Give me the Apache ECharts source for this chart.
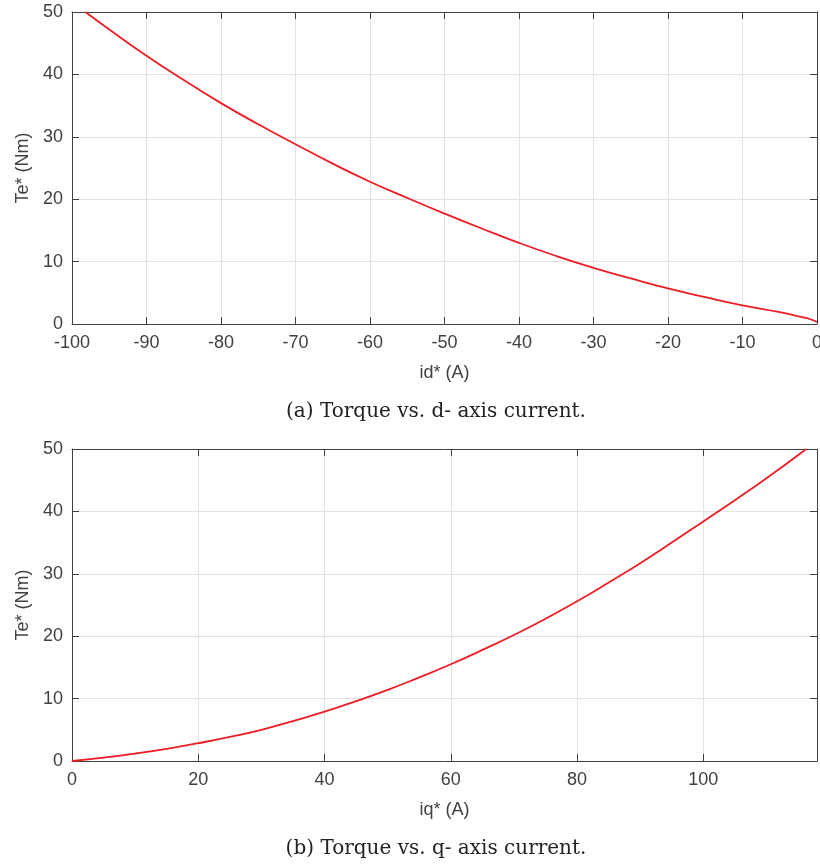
<!DOCTYPE html>
<html>
<head>
<meta charset="utf-8">
<script src="https://cdn.jsdelivr.net/npm/echarts@6/dist/echarts.min.js"></script>
<style>
html,body{margin:0;padding:0;background:#fff;}
#chart{width:820px;height:865px;}
</style>
</head>
<body>
<div id="chart"></div>
<script>
// Top panel: torque vs d-axis current
const idCurrent = [-98.2, -95, -90, -85, -80, -75, -70, -65, -60, -55, -50, -45, -40, -35, -30, -25, -20, -15, -10, -5, -2, -1, 0];
const teFromId  = [50, 47.2, 43.0, 39.1, 35.4, 32.0, 28.8, 25.7, 22.8, 20.2, 17.7, 15.3, 13.0, 10.9, 9.0, 7.3, 5.7, 4.3, 3.0, 1.9, 1.1, 0.8, 0.35];
// Bottom panel: torque vs q-axis current
const iqCurrent = [0, 5, 10, 15, 20, 25, 30, 35, 40, 45, 50, 55, 60, 65, 70, 75, 80, 85, 90, 95, 100, 105, 110, 116.3];
const teFromIq  = [0, 0.55, 1.2, 1.95, 2.85, 3.85, 5.0, 6.4, 7.9, 9.6, 11.4, 13.4, 15.5, 17.8, 20.2, 22.8, 25.6, 28.6, 31.7, 35.0, 38.4, 41.8, 45.3, 50];

const xLabelA = 'id* (A)';
const xLabelB = 'iq* (A)';
const yLabel = 'Te* (Nm)';
const captionA = '(a) Torque vs. d- axis current.';
const captionB = '(b) Torque vs. q- axis current.';

const AX = '#404040';
const GRIDC = '#e2e2e2';
const FONT = '"Liberation Sans", Arial, Helvetica, sans-serif';

function mainX(gi, min, max, interval, name, fmt) {
  return {
    type: 'value', gridIndex: gi, position: 'bottom', min, max, interval,
    name, nameLocation: 'middle', nameGap: 40,
    nameTextStyle: {color: AX, fontSize: 18, fontFamily: FONT},
    axisLine: {show: true, onZero: false, lineStyle: {color: AX, width: 1}},
    axisTick: {show: true, inside: true, length: 7, lineStyle: {color: AX}},
    axisLabel: {color: AX, fontSize: 18, fontFamily: FONT, margin: 10, formatter: fmt},
    splitLine: {show: true, lineStyle: {color: GRIDC, width: 1}}
  };
}
function frameX(gi, min, max, interval) {
  return {
    type: 'value', gridIndex: gi, position: 'top', min, max, interval,
    axisLine: {show: true, onZero: false, lineStyle: {color: AX, width: 1}},
    axisTick: {show: true, inside: true, length: 7, lineStyle: {color: AX}},
    axisLabel: {show: false}, splitLine: {show: false}
  };
}
function mainY(gi) {
  return {
    type: 'value', gridIndex: gi, position: 'left', min: 0, max: 50, interval: 10,
    name: yLabel, nameLocation: 'middle', nameGap: 34, nameRotate: 90,
    nameTextStyle: {color: AX, fontSize: 18, fontFamily: FONT},
    axisLine: {show: true, onZero: false, lineStyle: {color: AX, width: 1}},
    axisTick: {show: true, inside: true, length: 7, lineStyle: {color: AX}},
    axisLabel: {color: AX, fontSize: 18, fontFamily: FONT, margin: 9},
    splitLine: {show: true, lineStyle: {color: GRIDC, width: 1}}
  };
}
function frameY(gi) {
  return {
    type: 'value', gridIndex: gi, position: 'right', min: 0, max: 50, interval: 10,
    axisLine: {show: true, onZero: false, lineStyle: {color: AX, width: 1}},
    axisTick: {show: true, inside: true, length: 7, lineStyle: {color: AX}},
    axisLabel: {show: false}, splitLine: {show: false}
  };
}

const chart = echarts.init(document.getElementById('chart'), null, {renderer: 'canvas'});
chart.setOption({
  backgroundColor: '#fff',
  animation: false,
  grid: [
    {left: 72, top: 12, width: 745, height: 312, outerBoundsMode: 'none', containLabel: false},
    {left: 72, top: 449, width: 745, height: 312, outerBoundsMode: 'none', containLabel: false}
  ],
  xAxis: [
    mainX(0, -100, 0, 10, xLabelA),
    frameX(0, -100, 0, 10),
    mainX(1, 0, 118, 20, xLabelB, v => (v % 20 === 0 ? String(v) : '')),
    frameX(1, 0, 118, 20)
  ],
  yAxis: [mainY(0), frameY(0), mainY(1), frameY(1)],
  graphic: [
    {type: 'text', x: 436, y: 412, style: {text: captionA, textAlign: 'center', textVerticalAlign: 'middle', font: '20px "DejaVu Serif", "Liberation Serif", serif', fill: '#222'}},
    {type: 'text', x: 436, y: 849, style: {text: captionB, textAlign: 'center', textVerticalAlign: 'middle', font: '20px "DejaVu Serif", "Liberation Serif", serif', fill: '#222'}}
  ],
  series: [
    {type: 'line', xAxisIndex: 0, yAxisIndex: 0, data: idCurrent.map((x, i) => [x, teFromId[i]]),
     smooth: true, showSymbol: false, lineStyle: {color: '#ee1c25', width: 1.8}},
    {type: 'line', xAxisIndex: 2, yAxisIndex: 2, data: iqCurrent.map((x, i) => [x, teFromIq[i]]),
     smooth: true, showSymbol: false, lineStyle: {color: '#ee1c25', width: 1.8}}
  ]
});
</script>
</body>
</html>
